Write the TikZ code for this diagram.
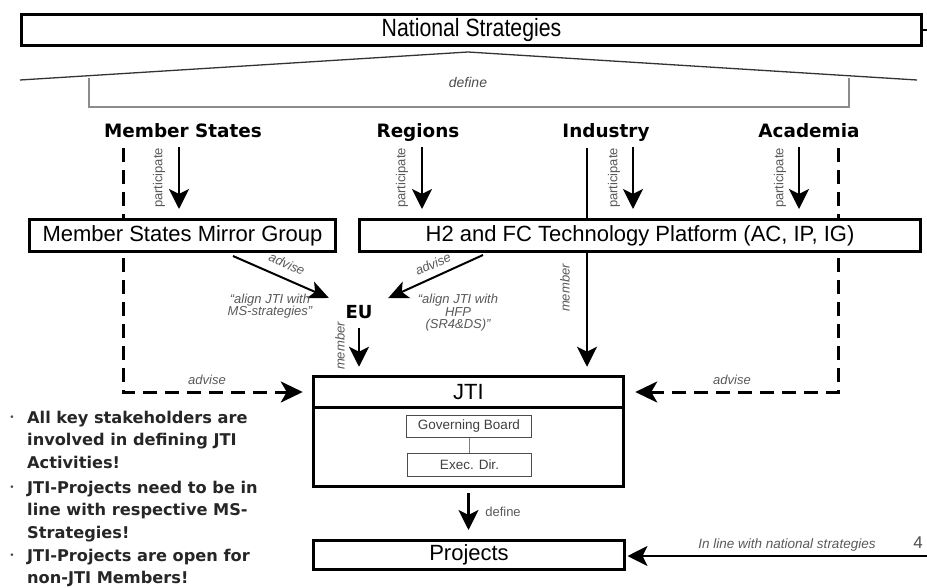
\documentclass[tikz,border=0pt]{standalone}
\usepackage{fontspec}
\setmainfont{Liberation Sans}
\newfontfamily\headfont{DejaVu Sans}
\newfontfamily\narrowfont{Liberation Sans}[FakeStretch=0.85]
\usetikzlibrary{arrows.meta}
\pgfdeclarelayer{bg}
\pgfsetlayers{bg,main}
\begin{document}
\begin{tikzpicture}[x=1pt,y=-1pt,
  box/.style={draw, line width=3pt, fill=white, inner sep=0pt, font=\fontsize{22}{26}\selectfont},
  smallbox/.style={draw=black!70, line width=1pt, fill=white, inner sep=0pt, text=black!75, font=\fontsize{13.5}{15}\selectfont},
  head/.style={font=\headfont\bfseries\fontsize{18.4}{22}\selectfont, inner sep=0pt},
  lbl/.style={font=\fontsize{13}{15}\selectfont, text=black!65, inner sep=0pt},
  ilbl/.style={font=\fontsize{13}{12.5}\selectfont\itshape, text=black!65, inner sep=0pt},
  arr/.style={line width=2.5pt, -{Stealth[length=20pt,width=20pt,inset=5pt]}},
  advarr/.style={line width=2pt, -{Stealth[length=20pt,width=18pt,inset=5pt]}},
  dsh/.style={line width=3pt, dash pattern=on 14pt off 8pt, -{Stealth[length=22pt,width=21pt,inset=6pt]}},
  bul/.style={font=\headfont\bfseries\fontsize{16.2}{22.3}\selectfont, align=left, inner sep=0pt, text=black!85},
  bdot/.style={font=\headfont\fontsize{9}{10}\selectfont, text=black!70, inner sep=0pt}
]
\useasboundingbox (0,0) rectangle (927,587);

% top box
\node[box, minimum width=900pt, minimum height=31pt, font=\narrowfont\fontsize{25}{28}\selectfont] (ns) at (471.5,30) {National Strategies};
\draw[line width=2pt] (ns.east) -- ++(5,0);

% roof
\draw[black!80, line width=1.3pt] (20,80) -- (468,52) -- (917,80);
\draw[black!45, line width=1.5pt] (89,78) -- (89,107) -- (849,107) -- (849,78);
\node[font=\fontsize{14}{16}\selectfont\itshape, text=black!70] (def1) at (468,82) {define};

% headings
\node[head, anchor=base] (ms) at (183,137) {Member States};
\node[head, anchor=base] (reg) at (418,137) {Regions};
\node[head, anchor=base] (ind) at (606,137) {Industry};
\node[head, anchor=base] (aca) at (809,137) {Academia};

% boxes
\node[box, minimum width=306pt, minimum height=32pt] (msmg) at (182.5,235.5) {Member States Mirror Group};
\node[box, minimum width=561pt, minimum height=32pt] (h2) at (640,235.5) {H2 and FC Technology Platform (AC, IP, IG)};

\node[box, line width=3.5pt, minimum width=310pt, minimum height=79pt] (jtib) at (468.5,447) {};
\node[box, line width=3.5pt, minimum width=310pt, minimum height=31pt] (jti) at (468.5,392) {JTI};
\node[smallbox, minimum width=125pt, minimum height=22pt] (gb) at (469,426.5) {Governing Board};
\node[smallbox, minimum width=124pt, minimum height=23pt] (ed) at (469.5,465) {Exec. Dir.};
\draw[black!50, line width=0.6pt] (gb.south) -- (gb.south |- ed.north);

\node[box, minimum width=311pt, minimum height=29pt] (proj) at (469,555) {Projects};

% EU
\node[head, font=\headfont\bfseries\fontsize{18}{22}\selectfont, anchor=base] (eu) at (359,318.5) {EU};

% background lines (behind boxes)
\begin{pgfonlayer}{bg}
  \coordinate (msd) at (123,148);
  \coordinate (acd) at (838,148);
  \draw[dsh, shorten >=9pt] (msd) |- (jti.west);
  \draw[dsh, shorten >=10pt] (acd) |- (jti.east);
  \draw[arr, shorten >=8pt] ([xshift=-19pt,yshift=-11pt]ind.base) -- ([xshift=-19pt]ind.base |- jti.north);
\end{pgfonlayer}

% participate arrows
\draw[arr, shorten >=9pt] ([xshift=-4pt,yshift=-10pt]ms.base) -- ([xshift=-4pt]ms.base |- msmg.north);
\draw[arr, shorten >=9pt] ([xshift=4pt,yshift=-10pt]reg.base) -- ([xshift=4pt]reg.base |- h2.north);
\draw[arr, shorten >=9pt] ([xshift=27pt,yshift=-10pt]ind.base) -- ([xshift=27pt]ind.base |- h2.north);
\draw[arr, shorten >=9pt] ([xshift=-10pt,yshift=-10pt]aca.base) -- ([xshift=-10pt]aca.base |- h2.north);
\node[lbl, rotate=90] (p1) at (159,178) {participate};
\node[lbl, rotate=90] (p2) at (402,178) {participate};
\node[lbl, rotate=90] (p3) at (614,178) {participate};
\node[lbl, rotate=90] (p4) at (780,178) {participate};

% member labels
\node[ilbl, rotate=90] (m1) at (565,288) {member};
\node[ilbl, rotate=90] (m2) at (340,346) {member};

% advise arrows to EU
\draw[advarr, shorten >=18pt] ([xshift=50.5pt,yshift=-3pt]msmg.south) -- (eu.north west);
\draw[advarr, shorten >=17pt] ([xshift=-157pt,yshift=-2pt]h2.south) -- (eu.north east);
\node[ilbl, rotate=-23.6] (a1) at (287,264) {advise};
\node[ilbl, rotate=24.3] (a2) at (433,264) {advise};
\node[ilbl, align=center] (t1) at (270,306) {“align JTI with\\MS-strategies”};
\node[ilbl, align=center] (t2) at (458,313) {“align JTI with\\HFP\\(SR4\&DS)”};

% EU member arrow
\draw[arr, shorten >=8pt] ([yshift=-9.5pt]eu.base) -- (eu.base |- jti.north);

% dashed labels
\node[ilbl] (a3) at (207,380) {advise};
\node[ilbl] (a4) at (732,380) {advise};

% define arrow
\draw[arr, shorten <=5pt, shorten >=9pt] (jtib.south) -- (jtib.south |- proj.north);
\node[lbl] (def2) at (503,512) {define};

% right arrow
\coordinate (rin) at (927,556);
\draw[arr, shorten >=1.5pt] (rin) -- (rin -| proj.east);
\node[ilbl, font=\fontsize{13.5}{15}\selectfont\itshape] (inl) at (787,545) {In line with national strategies};
\node[lbl, font=\fontsize{17}{18}\selectfont, text=black!70] (pg) at (918,543) {4};

% bullets
\node[bul, anchor=north west] (b1) at (27,411) {All key stakeholders are\\involved in defining JTI\\Activities!};
\node[bul, anchor=north west] (b2) at (27,481) {JTI-Projects need to be in\\line with respective MS-\\Strategies!};
\node[bul, anchor=north west] (b3) at (27,549) {JTI-Projects are open for\\non-JTI Members!};
\node[bdot] (d1) at (12,418) {•};
\node[bdot] (d2) at (12,488) {•};
\node[bdot] (d3) at (12,556) {•};
\end{tikzpicture}
\end{document}
